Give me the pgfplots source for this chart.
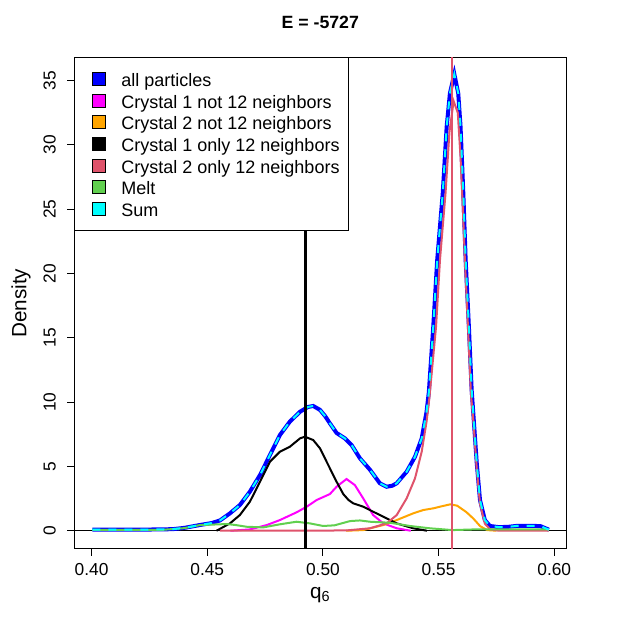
\documentclass[border=0pt]{standalone}
\usepackage{fontspec}
\setmainfont{Liberation Sans}
\usepackage{pgfplots}
\pgfplotsset{compat=1.18}
\definecolor{rRed}{HTML}{DF536B}
\definecolor{rGreen}{HTML}{61D04F}
\definecolor{rOrange}{HTML}{FFA500}
\definecolor{rMag}{HTML}{FF00FF}
\definecolor{rBlue}{HTML}{0000FF}
\definecolor{rCyan}{HTML}{00FFFF}
\newcommand{\legsq}[1]{\draw[black,line width=0.75pt,fill=#1,solid] (0pt,-4.875pt) rectangle (9.75pt,4.875pt); \path (-5.0pt,0pt) (20.25pt,0pt);}
\begin{document}
\begin{tikzpicture}
\path[use as bounding box] (0,0) rectangle (468pt,468pt);
\begin{axis}[
  at={(55.7pt,56.25pt)}, anchor=south west,
  scale only axis, width=369pt, height=368.8pt,
  xmin=0.3925, xmax=0.6052, ymin=-1.42, ymax=36.81,
  axis line style={line width=0.75pt},
  tick style={line width=0.75pt, black},
  tick align=outside, major tick length=5.25pt,
  xtick={0.40,0.45,0.50,0.55,0.60},
  ytick={0,5,10,15,20,25,30,35},
  xtick pos=bottom, ytick pos=left,
  x tick label style={/pgf/number format/.cd, fixed, fixed zerofill, precision=2},
  /pgf/number format/assume math mode=true,
  tick label style={font=\fontsize{13}{15}\selectfont},
  yticklabel style={rotate=90, anchor=south},
  yticklabel shift=5pt,
  xticklabel shift=2pt,
  title={E = -5727},
  title style={font=\bfseries\fontsize{13.3}{15}\selectfont, at={(axis description cs:0.5,1.0555)}, anchor=center},
  xlabel={q\textsubscript{6}},
  xlabel style={font=\fontsize{15.5}{18}\selectfont, at={(axis description cs:0.5,-0.0936)}, anchor=center},
  ylabel={Density},
  ylabel style={font=\fontsize{15.5}{18}\selectfont, at={(axis description cs:-0.1084,0.5)}, anchor=center},
  legend style={at={(axis description cs:0,1)}, anchor=north west, draw=black, line width=0.75pt, fill=white,
    font=\fontsize{13.5}{15}\selectfont, inner xsep=6.75pt, inner ysep=8.05pt, row sep=0pt,
    nodes={inner sep=0pt, text height=13.6pt, text depth=2.6pt}},
  legend cell align=left,
]
\addplot[black, line width=0.75pt, forget plot] coordinates {(0.38,0) (0.62,0)};
\addplot[rBlue, line width=3pt, legend image code/.code={\legsq{rBlue}}] coordinates {
(0.4003,0.08) (0.4200,0.08) (0.4350,0.12) (0.4400,0.22) (0.4470,0.45) (0.4520,0.60) (0.4555,0.80)
(0.4598,1.35) (0.4641,2.00) (0.4684,3.03) (0.4728,4.33) (0.4771,5.89) (0.4814,7.44) (0.4857,8.48)
(0.4901,9.25) (0.4935,9.62) (0.4958,9.70) (0.4987,9.40) (0.5010,8.90) (0.5030,8.35) (0.5059,7.60)
(0.5095,7.18) (0.5124,6.66) (0.5160,5.63) (0.5203,4.75) (0.5246,3.69) (0.5275,3.42) (0.5300,3.50)
(0.5319,3.69) (0.5362,4.59) (0.5398,5.75) (0.5427,7.18) (0.5448,9.25) (0.5458,10.80) (0.5477,15.86)
(0.5494,21.05) (0.5518,26.24) (0.5535,31.42) (0.5549,34.01) (0.5568,35.50) (0.5585,34.00) (0.5595,31.40)
(0.5607,26.20) (0.5617,21.05) (0.5631,15.86) (0.5643,10.94) (0.5650,9.15) (0.5665,5.26) (0.5679,2.39)
(0.5700,0.83) (0.5722,0.37) (0.5760,0.28) (0.5800,0.30) (0.5840,0.38) (0.5900,0.38) (0.5940,0.36) (0.5977,0.08)};
\addlegendentry{all particles}
\addplot[rMag, line width=1.5pt, legend image code/.code={\legsq{rMag}}] coordinates {
(0.4600,0.00) (0.4684,0.10) (0.4757,0.44) (0.4814,0.83) (0.4886,1.43) (0.4930,1.87) (0.4973,2.39)
(0.5030,2.85) (0.5059,3.42) (0.5102,4.02) (0.5138,3.55) (0.5174,2.52) (0.5217,1.22) (0.5261,0.57)
(0.5319,0.19) (0.5380,0.00)};
\addlegendentry{Crystal 1 not 12 neighbors}
\addplot[rOrange, line width=1.5pt, legend image code/.code={\legsq{rOrange}}] coordinates {
(0.5100,0.00) (0.5174,0.05) (0.5261,0.44) (0.5319,0.83) (0.5390,1.35) (0.5434,1.61) (0.5480,1.75)
(0.5506,1.87) (0.5550,2.05) (0.5580,1.95) (0.5620,1.45) (0.5650,0.95) (0.5680,0.35) (0.5710,0.05) (0.5750,0.00)};
\addlegendentry{Crystal 2 not 12 neighbors}
\addplot[black, line width=1.5pt, legend image code/.code={\legsq{black}}] coordinates {
(0.4540,0.00) (0.4598,0.57) (0.4641,1.22) (0.4684,2.25) (0.4728,3.81) (0.4771,5.37) (0.4814,6.14)
(0.4857,6.53) (0.4901,7.18) (0.4922,7.31) (0.4958,7.05) (0.4987,6.41) (0.5023,5.11) (0.5059,3.81)
(0.5088,2.85) (0.5110,2.40) (0.5131,2.13) (0.5174,1.87) (0.5217,1.48) (0.5261,1.09) (0.5319,0.57) (0.5390,0.19) (0.5450,0.00)};
\addlegendentry{Crystal 1 only 12 neighbors}
\addplot[rRed, line width=1.5pt, legend image code/.code={\legsq{rRed}}] coordinates {
(0.4555,0.00) (0.5100,0.02) (0.5203,0.19) (0.5275,0.57) (0.5319,1.22) (0.5362,2.52) (0.5398,4.07)
(0.5427,6.14) (0.5448,8.48) (0.5460,10.30) (0.5489,15.86) (0.5506,21.05) (0.5530,26.24) (0.5547,31.00)
(0.5565,33.40) (0.5583,32.50) (0.5595,29.00) (0.5605,25.00) (0.5615,20.50) (0.5628,15.50) (0.5640,10.60)
(0.5650,8.60) (0.5665,4.80) (0.5679,2.10) (0.5700,0.55) (0.5722,0.12) (0.5760,0.00) (0.5977,0.00)};
\addlegendentry{Crystal 2 only 12 neighbors}
\addplot[rGreen, line width=1.5pt, legend image code/.code={\legsq{rGreen}}] coordinates {
(0.4003,0.06) (0.4300,0.06) (0.4400,0.20) (0.4468,0.44) (0.4584,0.52) (0.4620,0.45) (0.4670,0.31)
(0.4742,0.26) (0.4814,0.50) (0.4886,0.70) (0.4944,0.57) (0.5001,0.37) (0.5050,0.42) (0.5117,0.75)
(0.5160,0.80) (0.5203,0.70) (0.5290,0.62) (0.5376,0.37) (0.5462,0.19) (0.5560,0.05) (0.5650,0.10) (0.5977,0.10)};
\addlegendentry{Melt}
\addplot[rCyan, line width=1.5pt, dash pattern=on 6pt off 6pt, legend image code/.code={\legsq{rCyan}}] coordinates {
(0.4003,0.08) (0.4200,0.08) (0.4350,0.12) (0.4400,0.22) (0.4470,0.45) (0.4520,0.60) (0.4555,0.80)
(0.4598,1.35) (0.4641,2.00) (0.4684,3.03) (0.4728,4.33) (0.4771,5.89) (0.4814,7.44) (0.4857,8.48)
(0.4901,9.25) (0.4935,9.62) (0.4958,9.70) (0.4987,9.40) (0.5010,8.90) (0.5030,8.35) (0.5059,7.60)
(0.5095,7.18) (0.5124,6.66) (0.5160,5.63) (0.5203,4.75) (0.5246,3.69) (0.5275,3.42) (0.5300,3.50)
(0.5319,3.69) (0.5362,4.59) (0.5398,5.75) (0.5427,7.18) (0.5448,9.25) (0.5458,10.80) (0.5477,15.86)
(0.5494,21.05) (0.5518,26.24) (0.5535,31.42) (0.5549,34.01) (0.5568,35.50) (0.5585,34.00) (0.5595,31.40)
(0.5607,26.20) (0.5617,21.05) (0.5631,15.86) (0.5643,10.94) (0.5650,9.15) (0.5665,5.26) (0.5679,2.39)
(0.5700,0.83) (0.5722,0.37) (0.5760,0.28) (0.5800,0.30) (0.5840,0.38) (0.5900,0.38) (0.5940,0.36) (0.5977,0.08)};
\addlegendentry{Sum}
\addplot[black, line width=2pt, forget plot] coordinates {(0.4925,-5) (0.4925,50)};
\addplot[rRed, line width=1.5pt, forget plot] coordinates {(0.5558,-5) (0.5558,50)};
\end{axis}
\end{tikzpicture}
\end{document}
